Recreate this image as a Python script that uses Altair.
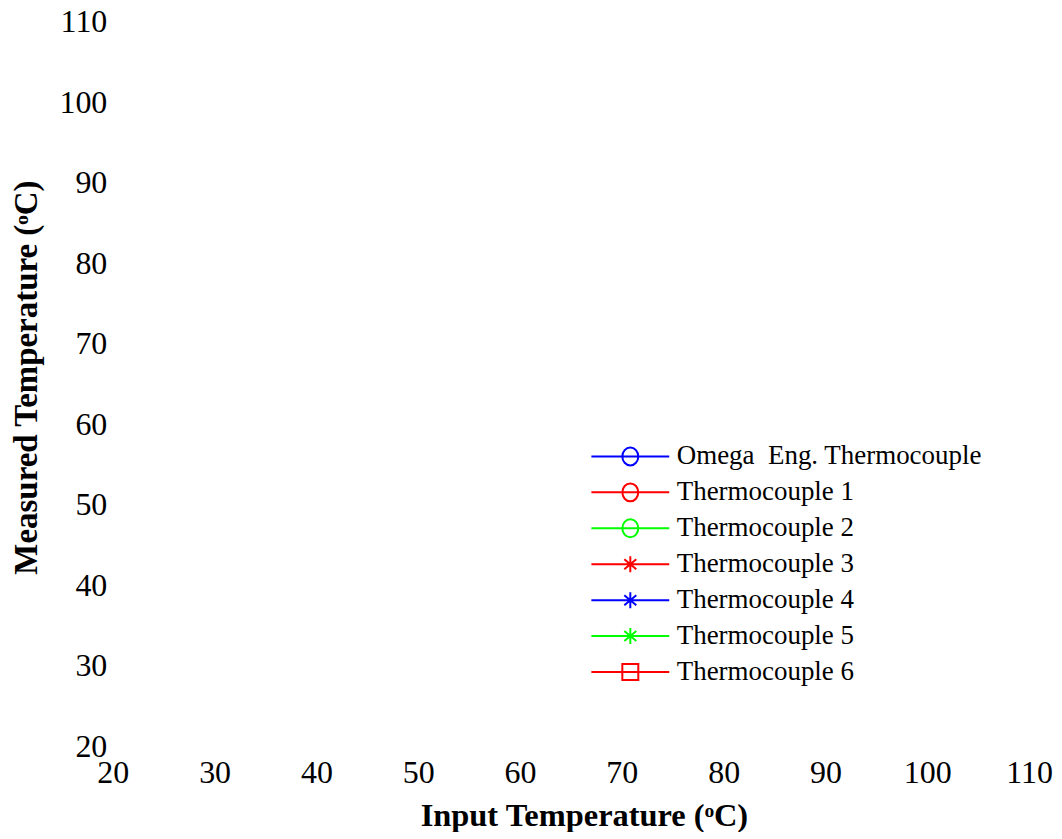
import altair as alt

# Series shown in the legend (no data points are visible in the reference plot area)
series = [
    "Omega\u00a0 Eng. Thermocouple",
    "Thermocouple 1",
    "Thermocouple 2",
    "Thermocouple 3",
    "Thermocouple 4",
    "Thermocouple 5",
    "Thermocouple 6",
]
colors = ["#0000ff", "#ff0000", "#00ff00", "#ff0000", "#0000ff", "#00ff00", "#ff0000"]
markers = ["circle", "circle", "circle", "star", "star", "star", "square"]

x_ticks = [20, 30, 40, 50, 60, 70, 80, 90, 100, 110]
y_ticks = [20, 30, 40, 50, 60, 70, 80, 90, 100, 110]

# Nothing is plotted inside the axes of the reference: values left empty
input_temp = [None, None, None, None, None, None, None]
measured_temp = [None, None, None, None, None, None, None]

# Legend glyphs: line segment with marker in the middle
glyphs = {
    "circle": "M-3.9,0H3.9M0.8,0A0.8,0.9,0,1,1,-0.8,0A0.8,0.9,0,1,1,0.8,0",
    "star": "M-3.9,0H3.9M0,-0.8V0.8M-0.6,-0.5L0.6,0.5M-0.6,0.5L0.6,-0.5",
    "square": "M-3.9,0H3.9M-0.8,-0.8H0.8V0.8H-0.8Z",
}
shape_range = [glyphs[m] for m in markers]

rows = [
    {"series": s, "input": xv, "measured": yv}
    for s, xv, yv in zip(series, input_temp, measured_temp)
]

FONT = "Liberation Serif"

legend_cfg = dict(
    orient="none",
    legendX=505,
    legendY=422,
    title=None,
    labelFont=FONT,
    labelFontSize=27,
    labelColor="black",
    labelLimit=0,
    symbolSize=400,
    symbolStrokeWidth=2,
    symbolOpacity=1,
    symbolFillColor="transparent",
    labelOffset=33,
    rowPadding=8,
    padding=0,
)

x_axis = alt.Axis(
    values=x_ticks,
    title="Input Temperature (\u1d52C)",
    domain=False,
    ticks=False,
    tickSize=0,
    grid=False,
    labelFlush=False,
    labelOverlap=False,
    labelFont=FONT,
    labelFontSize=32,
    labelColor="black",
    labelBaseline="alphabetic",
    labelPadding=36,
    titleFont=FONT,
    titleFontSize=32.5,
    titleFontWeight="bold",
    titleColor="black",
    titleX=472,
    titleY=79,
    titleAlign="center",
    titleBaseline="alphabetic",
)

y_axis = alt.Axis(
    values=y_ticks,
    title="Measured Temperature (\u1d52C)",
    domain=False,
    ticks=False,
    tickSize=0,
    grid=False,
    labelFlush=False,
    labelOverlap=False,
    labelFont=FONT,
    labelFontSize=32,
    labelColor="black",
    labelAlign="right",
    labelBaseline="middle",
    labelPadding=6,
    titleFont=FONT,
    titleFontSize=33,
    titleFontWeight="bold",
    titleColor="black",
    titleAngle=270,
    titleX=-76,
    titleY=356,
    titleAlign="center",
    titleBaseline="alphabetic",
)

chart = (
    alt.Chart(alt.Data(values=rows))
    .mark_point(filled=False, strokeWidth=2, opacity=1)
    .encode(
        x=alt.X("input:Q", scale=alt.Scale(domain=[20, 110], nice=False, zero=False), axis=x_axis),
        y=alt.Y("measured:Q", scale=alt.Scale(domain=[20, 110], nice=False, zero=False), axis=y_axis),
        color=alt.Color(
            "series:N",
            scale=alt.Scale(domain=series, range=colors),
            sort=series,
            legend=alt.Legend(**legend_cfg),
        ),
        shape=alt.Shape(
            "series:N",
            scale=alt.Scale(domain=series, range=shape_range),
            sort=series,
            legend=alt.Legend(**legend_cfg),
        ),
    )
    .properties(
        width=918,
        height=726,
        autosize=alt.AutoSizeParams(type="none"),
        padding={"left": 105, "top": 13, "right": 25, "bottom": 85},
        background="white",
    )
    .configure_view(stroke=None)
)

chart.save("out.html", embed_options={"renderer": "svg", "actions": False})
